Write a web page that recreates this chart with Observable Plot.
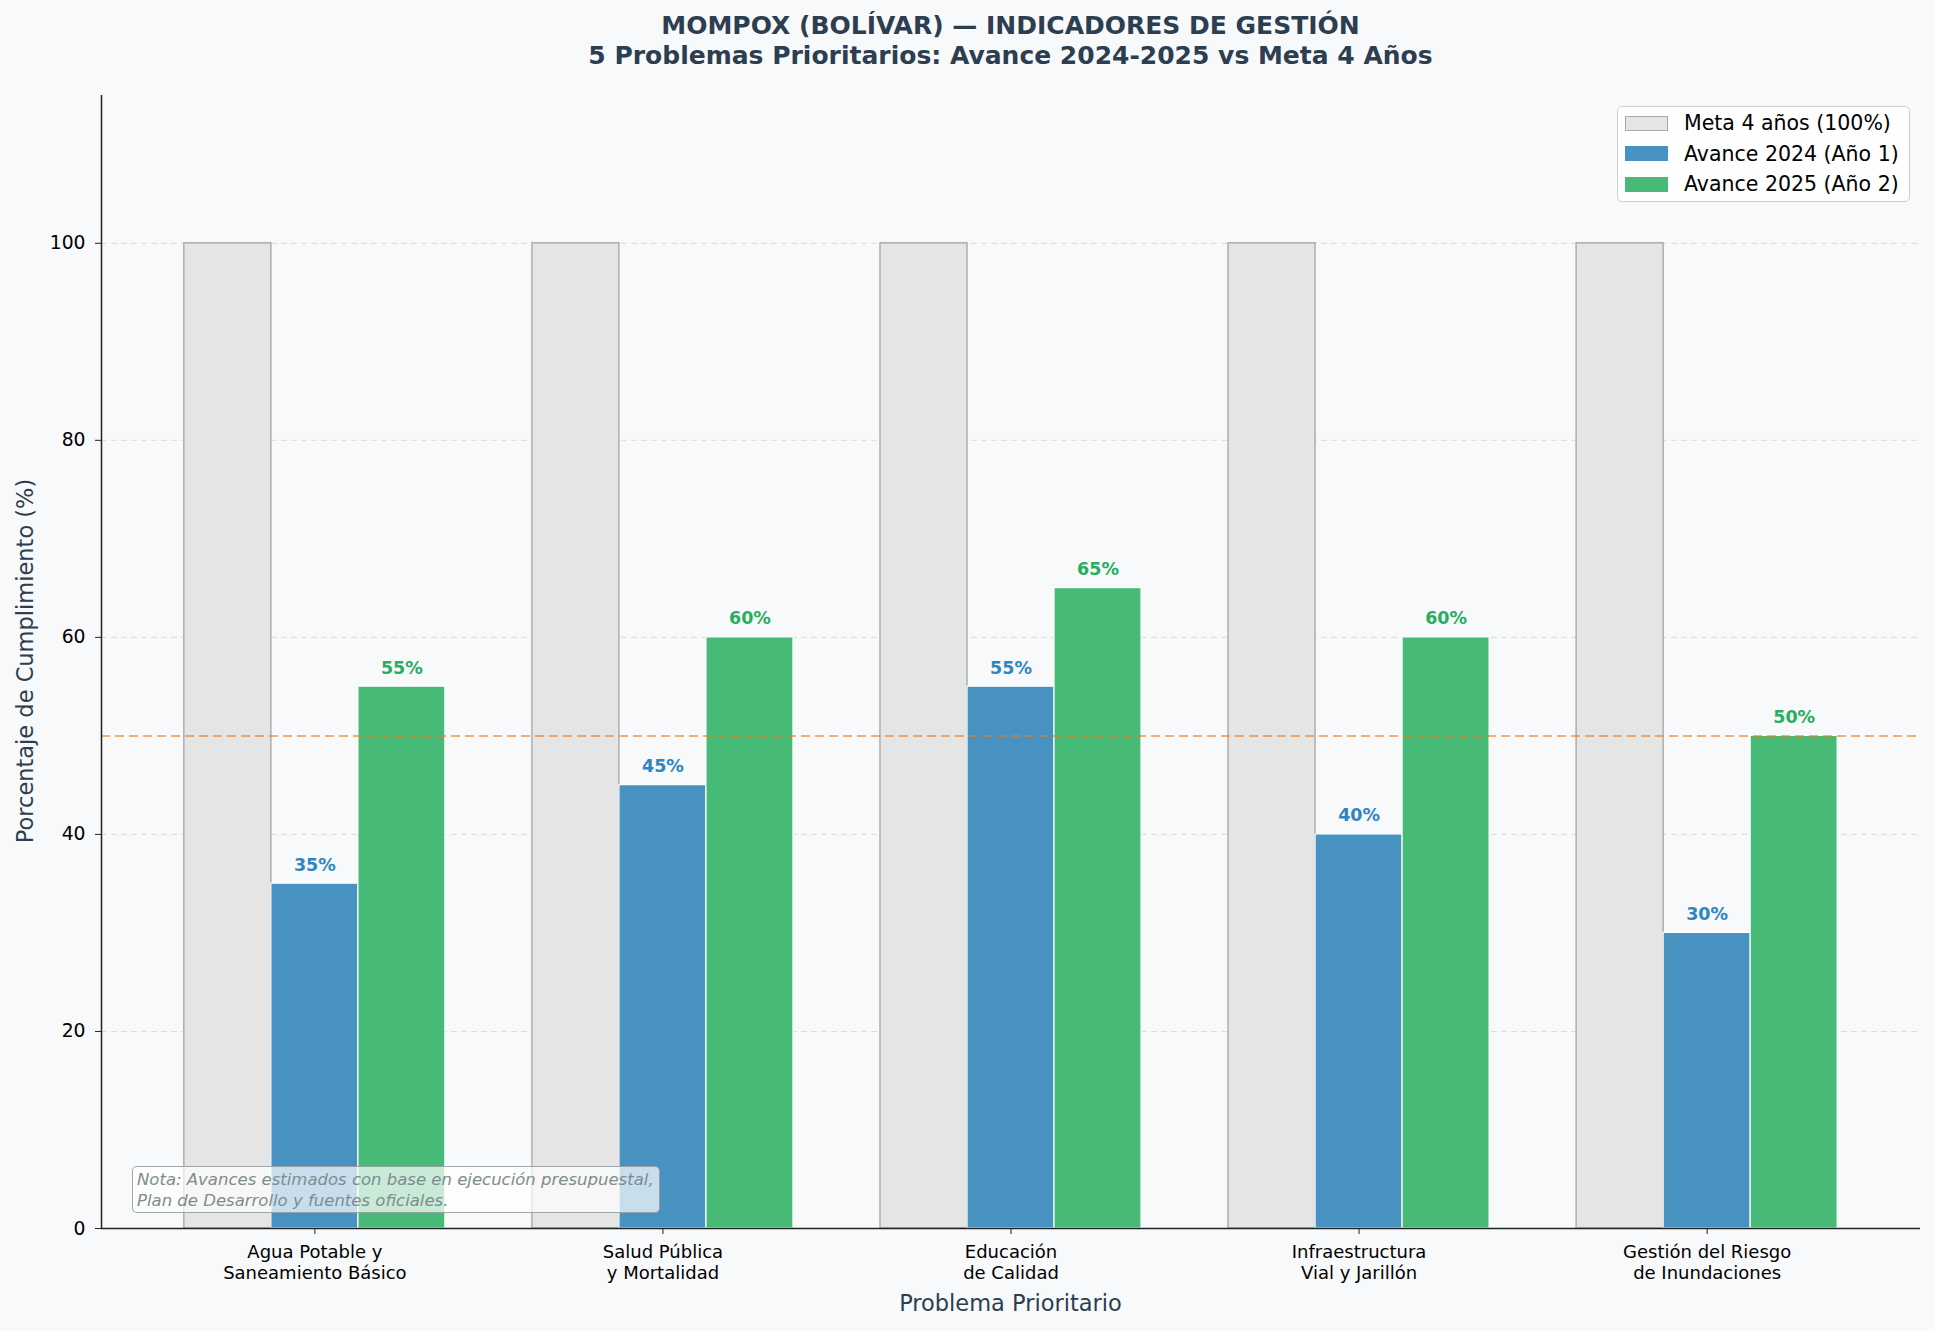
<!DOCTYPE html>
<html><head><meta charset="utf-8">
<script src="https://cdn.jsdelivr.net/npm/d3@7"></script>
<script src="https://cdn.jsdelivr.net/npm/@observablehq/plot@0.6"></script>
<style>
body{margin:0;background:#f8f9fa;font-family:"DejaVu Sans",sans-serif;}
#wrap{position:relative;width:1935px;height:1331px;background:#f8f9fa;overflow:hidden}
.abs{position:absolute;white-space:nowrap;line-height:1}
svg{position:absolute;left:0;top:0}
</style></head><body><div id="wrap"></div>
<script>
const categories = ["Agua Potable y\nSaneamiento Básico", "Salud Pública\ny Mortalidad", "Educación\nde Calidad", "Infraestructura\nVial y Jarillón", "Gestión del Riesgo\nde Inundaciones"];
const meta = [100, 100, 100, 100, 100];
const avance2024 = [35, 45, 55, 40, 30];
const avance2025 = [55, 60, 65, 60, 50];
const yTicks = [0, 20, 40, 60, 80, 100];
const umbral = 50;
const seriesNames = ["Meta 4 años (100%)", "Avance 2024 (Año 1)", "Avance 2025 (Año 2)"];
const seriesColors = ["#e5e5e5", "#4892c2", "#47ba77"];
const labelColors = [null, "#2e86c1", "#27ae60"];

const bw = 0.25;
const mk = (vals, off) => vals.map((v, i) => ({i, x: i + off * bw, v}));
const metaRows = mk(meta, -1), r24 = mk(avance2024, 0), r25 = mk(avance2025, 1);
const xmin = -0.613, xmax = 4.613;

const W = 1935, H = 1331;
const chart = Plot.plot({
  width: W, height: H, marginTop: 95, marginLeft: 101, marginRight: 15, marginBottom: 103,
  style: {background: "transparent", fontFamily: "DejaVu Sans", color: "#000", overflow: "visible"},
  x: {type: "linear", domain: [xmin, xmax]},
  y: {domain: [0, 115]},
  marks: [
    Plot.gridY(yTicks.slice(1), {stroke: "#b0b0b0", strokeOpacity: 0.4, strokeDasharray: "6,4", strokeWidth: 1}),
    Plot.rectY(metaRows, {x1: d => d.x - bw/2, x2: d => d.x + bw/2, y1: 0, y2: "v", fill: seriesColors[0], stroke: "#a9a9a9", strokeWidth: 1.4}),
    Plot.rectY(r24, {x1: d => d.x - bw/2, x2: d => d.x + bw/2, y1: 0, y2: "v", fill: seriesColors[1], stroke: "white", strokeWidth: 1.2}),
    Plot.rectY(r25, {x1: d => d.x - bw/2, x2: d => d.x + bw/2, y1: 0, y2: "v", fill: seriesColors[2], stroke: "white", strokeWidth: 1.2}),
    Plot.ruleY([umbral], {stroke: "#e67e22", strokeOpacity: 0.6, strokeWidth: 2, strokeDasharray: "9,5"}),
    Plot.text(r24, {x: "x", y: "v", text: d => d.v + "%", dy: -13, lineAnchor: "bottom", fill: labelColors[1], fontWeight: "bold", fontSize: 17.5}),
    Plot.text(r25, {x: "x", y: "v", text: d => d.v + "%", dy: -13, lineAnchor: "bottom", fill: labelColors[2], fontWeight: "bold", fontSize: 17.5}),
    Plot.axisY({ticks: yTicks, tickSize: 6, tickPadding: 10, fontSize: 18.75, label: null, stroke: "#222"}),
    Plot.axisX({ticks: [0, 1, 2, 3, 4], tickFormat: i => categories[i], tickSize: 6, tickPadding: 8, fontSize: 18, lineHeight: 1.2, label: null, stroke: "#222"}),
    Plot.ruleY([0], {stroke: "#222", strokeWidth: 1.5}),
    Plot.ruleX([xmin], {stroke: "#222", strokeWidth: 1.5})
  ]
});
const wrap = document.getElementById("wrap");
wrap.appendChild(chart);

function add(html, css) {
  const d = document.createElement("div");
  d.className = "abs";
  d.innerHTML = html;
  Object.assign(d.style, css);
  wrap.appendChild(d);
  return d;
}
const cx = 1010.5;
add("MOMPOX (BOLÍVAR) — INDICADORES DE GESTIÓN", {left: cx + "px", top: "13px", transform: "translateX(-50%)", fontSize: "25px", fontWeight: "bold", color: "#2c3e50"});
add("5 Problemas Prioritarios: Avance 2024-2025 vs Meta 4 Años", {left: cx + "px", top: "43px", transform: "translateX(-50%)", fontSize: "25px", fontWeight: "bold", color: "#2c3e50"});
add("Problema Prioritario", {left: cx + "px", top: "1292px", transform: "translateX(-50%)", fontSize: "22.5px", color: "#2c3e50"});
add("Porcentaje de Cumplimiento (%)", {left: "25px", top: "661px", transform: "translate(-50%,-50%) rotate(-90deg)", fontSize: "22.5px", color: "#2c3e50"});

// legend
const lg = add("", {left: "1617px", top: "106px", width: "293px", height: "96px", border: "1.5px solid #cfcfcf", borderRadius: "5px", background: "rgba(255,255,255,0.8)", boxSizing: "border-box"});
seriesNames.forEach((n, k) => {
  const cy = 16 + k * 30.5;
  const sw = document.createElement("div");
  Object.assign(sw.style, {position: "absolute", left: "7px", top: (cy - 7.5) + "px", width: "43px", height: "15px", background: seriesColors[k], border: k === 0 ? "1.5px solid #a9a9a9" : "none", boxSizing: "border-box"});
  lg.appendChild(sw);
  const t = document.createElement("div");
  Object.assign(t.style, {position: "absolute", left: "66px", top: (cy - 11) + "px", fontSize: "20.5px", lineHeight: "22px", color: "#000", whiteSpace: "nowrap"});
  t.textContent = n;
  lg.appendChild(t);
});

// note
add("Nota: Avances estimados con base en ejecución presupuestal,<br>Plan de Desarrollo y fuentes oficiales.", {left: "132px", top: "1166px", width: "528px", height: "47px", boxSizing: "border-box", padding: "2px 0 0 4px", border: "1.5px solid rgba(127,140,141,0.75)", borderRadius: "5px", background: "rgba(255,255,255,0.7)", fontSize: "16.5px", lineHeight: "21px", fontStyle: "italic", color: "#7f8c8d"});
</script></body></html>
